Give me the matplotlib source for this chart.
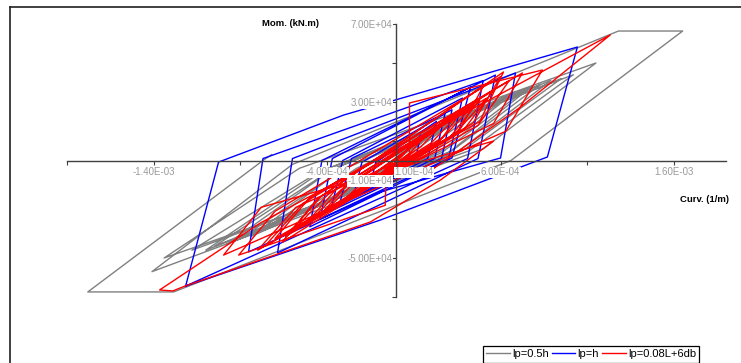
import matplotlib
matplotlib.use("Agg")
import matplotlib.pyplot as plt
from matplotlib.lines import Line2D

plt.rcParams["font.family"] = ["Liberation Sans", "DejaVu Sans"]

# curvature in 1e-4 1/m, moment in 1e4 kN.m
curv_05h = [0.0, 1.2, -0.1, -1.4, 0.1, 2.5, 0.2, -2.8, -0.3, 3.8, 0.6, -4.2, -0.8,
            5.2, 1.2, -5.8, -1.4, 6.3, 2.0, -7.6, -2.3, 7.4, 2.6, -9.0, -3.0,
            6.8, 2.6, -8.4, -3.2, 8.3, 3.2, -10.5, -3.8, 7.8, 3.0, -9.8, -3.6,
            9.5, 3.8, -11.8, -4.5, 8.9, 3.6, -11.0, -4.2, 10.2, 4.2, -13.4, -5.6,
            11.5, 5.0, -14.1, -6.0, 12.8, 16.5, 6.6, -12.85, -17.8, -7.7, -7.2]
mom_05h = [0.0, 1.0, 0.1, -0.9, -0.1, 1.7, 0.2, -1.6, -0.1, 2.3, 0.2, -2.2, -0.1,
           2.8, 0.3, -2.8, -0.3, 3.2, 0.4, -3.5, -0.4, 3.6, 0.4, -4.0, -0.4,
           3.5, 0.5, -3.9, -0.5, 3.9, 0.5, -4.4, -0.5, 3.8, 0.4, -4.3, -0.4,
           4.2, 0.5, -4.6, -0.6, 4.1, 0.5, -4.6, -0.5, 4.4, 0.5, -5.0, -0.4,
           5.0, 0.6, -5.7, -0.2, 6.64, 6.64, 0.0, -6.74, -6.74, 0.0, 0.3]

curv_h = [0.0, 1.4, 1.1, -1.5, -1.2, 2.3, 1.8, -2.5, -2.0, 2.8, 2.2, -3.3, -2.6,
          3.2, 2.6, -3.8, -3.1, 3.8, 3.0, -4.4, -3.7, 4.27, 3.2, -5.0, -4.3,
          5.7, 4.7, -6.86, -6.0, 6.86, 6.0, -0.9, -8.53, -7.7, 5.0, 4.1,
          -12.16, -10.26, -3.05, 10.43, 8.7, -0.92, -12.16]
mom_h = [0.0, 1.3, 0.1, -1.2, -0.1, 2.0, 0.1, -1.9, -0.1, 2.4, 0.1, -2.3, 0.1,
         2.6, 0.1, -2.6, 0.0, 3.2, 0.1, -3.0, 0.1, 3.77, 0.13, -3.4, 0.0,
         4.38, 0.1, -4.74, 0.1, 4.49, 0.13, -1.6, -4.69, 0.1, 4.1, 0.1,
         -6.44, -0.08, 2.33, 5.82, 0.18, -3.05, -6.44]

curv_08l = [0.0, 0.9, 0.3, -1.0, -0.4, 1.7, 0.8, -2.0, -1.0, 2.6, 1.4, -3.0, -1.7,
            3.5, 2.0, -4.0, -2.4, 3.9, 2.5, -4.5, -2.8, 4.3, 2.7, -5.0, -3.2,
            4.8, 3.0, -5.4, -3.4, 5.2, 3.4, -6.0, -3.9, 5.6, 3.9, -6.4, -4.3,
            5.0, 3.6, -6.6, -4.6, 6.17, 4.8, -7.0, -5.0, 6.5, 4.7, -7.6, -5.4,
            7.26, 5.6, -0.6, -0.65, -9.1, -7.0, 6.0, 4.4, -8.0, -5.8, 0.75, 0.75,
            8.41, 6.3, -9.97, -7.8, 5.6, 2.54, -1.5, -12.2, -12.9, -13.66, -7.84,
            12.33, 7.15, 2.0]
mom_08l = [0.0, 0.8, 0.2, -0.8, -0.2, 1.3, 0.4, -1.4, -0.5, 1.8, 0.7, -2.0, -0.9,
           2.3, 0.9, -2.5, -1.1, 2.7, 1.0, -2.9, -1.2, 2.7, 1.2, -3.1, -1.5,
           3.1, 1.1, -3.4, -1.4, 3.2, 1.4, -3.6, -1.7, 3.6, 1.6, -3.9, -1.8,
           3.8, 1.5, -4.2, -2.0, 4.54, 2.0, -4.0, -1.9, 4.1, 1.8, -4.4, -2.2,
           4.49, 1.9, -0.8, -2.3, -4.85, -2.6, 4.3, 1.9, -4.6, -2.4, 0.2, 2.95,
           4.64, 1.5, -4.85, -2.4, 1.0, -1.0, -3.15, -6.44, -6.69, -6.64, -3.2,
           6.44, 2.74, -0.5]

series = [
    ("lp=0.5h", curv_05h, mom_05h, "#808080"),
    ("lp=h", curv_h, mom_h, "#0000ff"),
    ("lp=0.08L+6db", curv_08l, mom_08l, "#ff0000"),
]

x_ticks = [-19, -14, -9, -4, 1, 6, 11, 16]
x_labels = ["", "-1.40E-03", "", "-4.00E-04", "1.00E-04", "6.00E-04", "", "1.60E-03"]
y_ticks = [-7, -5, -3, -1, 1, 3, 5, 7]
y_labels = ["", "-5.00E+04", "", "-1.00E+04", "", "3.00E+04", "", "7.00E+04"]

W, H = 741, 363
fig = plt.figure(figsize=(W / 100, H / 100), dpi=100)
ax = fig.add_axes([67 / W, 1 - 297 / H, 659 / W, 273 / H])

for name, cx, my, col in series:
    ax.plot([c * 1e-4 for c in cx], [m * 1e4 for m in my], color=col, lw=1.0,
            label=name, zorder=2)

ax.set_xlim(-1.9e-3, 1.9e-3)
ax.set_ylim(-7e4, 7e4)
ax.spines["left"].set_position(("data", 0))
ax.spines["bottom"].set_position(("data", 0))
ax.spines["right"].set_visible(False)
ax.spines["top"].set_visible(False)
for s in ("left", "bottom"):
    ax.spines[s].set_color("#404040")
    ax.spines[s].set_linewidth(1.0)
    ax.spines[s].set_zorder(3)
ax.patch.set_visible(False)
ax.xaxis.set_zorder(4)
ax.yaxis.set_zorder(4)

ax.set_xticks([t * 1e-4 for t in x_ticks])
ax.set_xticklabels(x_labels)
ax.set_yticks([t * 1e4 for t in y_ticks])
ax.set_yticklabels(y_labels)
ax.tick_params(axis="x", direction="out", length=3, width=0.8, color="#404040",
               pad=2, labelsize=7, labelcolor="#9a9a9a")
ax.tick_params(axis="y", direction="out", length=3, width=0.8, color="#404040",
               pad=0, labelsize=7, labelcolor="#9a9a9a")
for t in ax.get_xticklabels() + ax.get_yticklabels():
    t.set_bbox(dict(facecolor="white", edgecolor="none", pad=0.4))

fig.text(291 / W, 1 - 24 / H, "Mom. (kN.m)", fontsize=6.8, fontweight="bold",
         ha="center", va="center")
fig.text(704 / W, 1 - 199 / H, "Curv. (1/m)", fontsize=6.8, fontweight="bold",
         ha="center", va="center")

# chart area border (left and top edges)
fig.add_artist(Line2D([10 / W, 10 / W], [0, 1 - 7 / H], color="#202020", lw=1.2))
fig.add_artist(Line2D([10 / W, 1], [1 - 7 / H, 1 - 7 / H], color="#202020", lw=1.2))

leg = fig.legend(loc="upper left", bbox_to_anchor=(483 / W, 1 - 346 / H), ncol=3,
                 fontsize=8, frameon=True, fancybox=False, edgecolor="black",
                 framealpha=1, borderaxespad=0, handlelength=2.1, handletextpad=0.2,
                 columnspacing=0.3, borderpad=0.3)
leg.get_frame().set_linewidth(0.9)

fig.savefig("out.png", dpi=100)
